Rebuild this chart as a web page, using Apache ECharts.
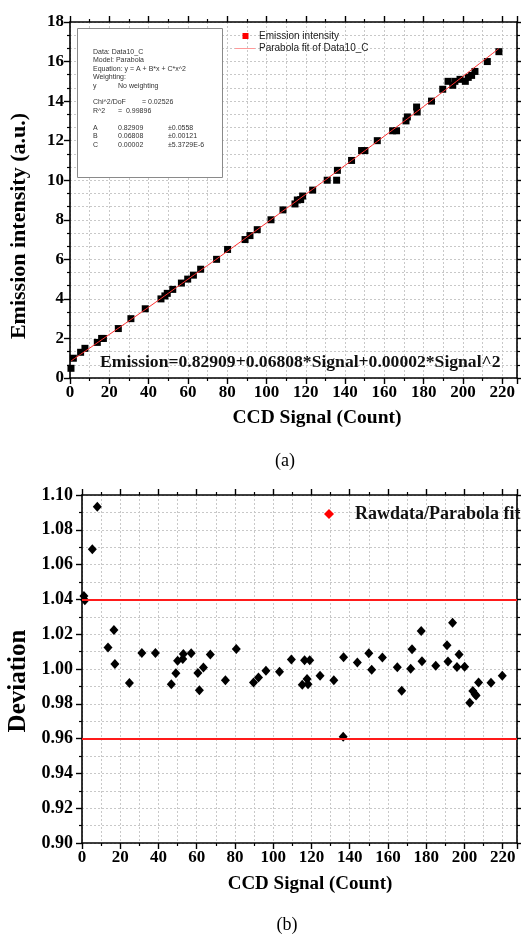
<!DOCTYPE html>
<html><head><meta charset="utf-8">
<script src="https://cdn.jsdelivr.net/npm/echarts@6/dist/echarts.min.js"></script>
<style>html,body{margin:0;padding:0;background:#fff}#c{width:521px;height:936px}</style>
</head><body><div id="c"></div>
<script>
// ---- Panel (a): emission intensity vs CCD signal ----
const sigA = [0.5,1.7,5.4,7.6,13.9,16.1,17.0,24.6,31.0,38.3,46.3,48.3,49.5,52.3,56.7,59.9,62.8,66.5,74.6,80.2,89.1,91.6,95.3,102.3,108.4,114.5,115.7,117.4,118.4,123.5,130.9,135.7,136.1,143.3,148.4,150.1,156.4,164.2,166.2,171.0,171.7,176.4,176.7,184.0,189.7,192.4,194.8,195.9,198.5,201.2,202.7,204.4,206.1,212.4,218.3];
const emission = [0.49,1.0,1.3,1.5,1.8,2.0,2.0,2.5,3.0,3.5,4.0,4.15,4.28,4.48,4.8,5.0,5.2,5.5,6.0,6.5,7.0,7.2,7.5,8.0,8.5,8.8,9.0,9.02,9.2,9.5,10.0,10.0,10.5,11.0,11.5,11.5,12.0,12.5,12.5,13.0,13.2,13.7,13.45,14.0,14.6,15.0,14.8,15.0,15.1,15.0,15.2,15.3,15.5,16.0,16.5];
const fitX = [0.5,20,40,60,80,100,120,140,160,180,200,218.3];
const fitY = [0.86,2.20,3.58,4.99,6.40,7.84,9.29,10.75,12.23,13.73,15.25,16.66];
const xTicks = [0,20,40,60,80,100,120,140,160,180,200,220];
const yTicksA = [0,2,4,6,8,10,12,14,16,18];
const boxLines = [
  ['Data: Data10_C','',''],
  ['Model: Parabola','',''],
  ['Equation: y = A + B*x + C*x^2','',''],
  ['Weighting:','',''],
  ['y','No weighting',''],
  null,
  ['Chi^2/DoF','','= 0.02526'],
  ['R^2','=  0.99896',''],
  null,
  ['A','0.82909','\u00b10.0558'],
  ['B','0.06808','\u00b10.00121'],
  ['C','0.00002','\u00b15.3729E-6']
];
// ---- Panel (b): deviation ----
const sigB = [1.0,1.5,5.4,8.0,13.6,16.7,17.2,24.8,31.3,38.4,46.7,49.1,50.0,52.7,53.0,57.1,60.6,61.4,63.5,67.1,75.0,80.7,89.7,92.3,96.2,103.3,109.5,115.2,116.4,117.7,118.2,119.1,124.5,131.7,136.6,136.8,144.0,150.0,151.5,157.1,164.9,167.2,171.9,172.6,177.4,177.8,185.0,190.9,191.4,193.8,196.1,197.2,200.1,202.8,204.4,205.6,206.1,207.4,213.9,219.8];
const deviation = [1.042,1.0395,1.0688,1.0933,1.0124,1.0224,1.0029,0.9920,1.0092,1.0092,0.9913,0.9976,1.0047,1.0058,1.0086,1.0090,0.9977,0.9878,1.0009,1.0084,0.9935,1.0115,0.9923,0.9951,0.9990,0.9984,1.0055,0.9909,1.0051,0.9943,0.9912,1.0051,0.9961,0.9936,0.9611,1.0067,1.0037,1.0091,0.9996,1.0066,1.0010,0.9875,1.0001,1.0113,1.0218,1.0044,1.0019,1.0137,1.0043,1.0266,1.0011,1.0083,1.0013,0.9806,0.9874,0.9855,0.9847,0.9922,0.9921,0.9961];
const limits = [1.04, 0.96];
const yTicksB = [0.90,0.92,0.94,0.96,0.98,1.00,1.02,1.04,1.06,1.08,1.10];

const SERIF = '"Liberation Serif","Times New Roman",serif';
const SANS = '"Liberation Sans",Arial,sans-serif';
const XMAX = 227.5;

function xAx(gi, pos, show) {
  return {
    type:'value', gridIndex:gi, position:pos, min:0, max:XMAX, interval:20,
    axisLine:{show:true, onZero:false, lineStyle:{color:'#000', width:1.6}},
    axisTick:{show:true, inside:false, length:6, lineStyle:{color:'#000', width:1.4}},
    minorTick:{show:true, splitNumber:2, length:3, lineStyle:{color:'#000', width:1.2}},
    axisLabel:{show:show, showMaxLabel:false, color:'#000', fontFamily:SERIF, fontWeight:'bold', fontSize:17, margin:6},
    splitLine:{show:show, lineStyle:{color:'#c8c8c8', type:[2,2], width:1}},
    minorSplitLine:{show:show, lineStyle:{color:'#c8c8c8', type:[2,2], width:1}}
  };
}
function yAx(gi, pos, show, mn, mx, iv, minorN, fmt, fs, mg) {
  return {
    type:'value', gridIndex:gi, position:pos, min:mn, max:mx, interval:iv,
    axisLine:{show:true, onZero:false, lineStyle:{color:'#000', width:1.6}},
    axisTick:{show:true, inside:false, length:6, lineStyle:{color:'#000', width:1.4}},
    minorTick:{show:true, splitNumber:minorN, length:3, lineStyle:{color:'#000', width:1.2}},
    axisLabel:{show:show, color:'#000', fontFamily:SERIF, fontWeight:'bold', fontSize:fs, margin:mg, formatter:fmt},
    splitLine:{show:show, lineStyle:{color:'#c8c8c8', type:[2,2], width:1}},
    minorSplitLine:{show:show, lineStyle:{color:'#c8c8c8', type:[2,2], width:1}}
  };
}

const chart = echarts.init(document.getElementById('c'), null, {renderer:'canvas'});

const graphics = [];
// text box
graphics.push({type:'rect', shape:{x:77.5, y:28.5, width:145, height:149}, style:{fill:'#fff', stroke:'#8a8a8a', lineWidth:1}, z:10});
const lineYs = [52,60.5,69,77.5,86,null,102.5,111,null,128,136.5,145];
boxLines.forEach((r, i) => {
  if (!r) return;
  const y = lineYs[i];
  const cols = [93, 118, (i===6?142:168)];
  r.forEach((t, j) => {
    if (!t) return;
    graphics.push({type:'text', x:cols[j], y:y, style:{text:t, fill:'#333', font:'7px '+SANS, textVerticalAlign:'middle'}, z:11});
  });
});
// legend (a)
graphics.push({type:'rect', shape:{x:242.5, y:33, width:6, height:6}, style:{fill:'#ff0000'}, z:11});
graphics.push({type:'text', x:259, y:36, style:{text:'Emission intensity', fill:'#222', font:'10px '+SANS, textVerticalAlign:'middle'}, z:11});
graphics.push({type:'line', shape:{x1:235, y1:48.5, x2:255, y2:48.5}, style:{stroke:'#ff9999', lineWidth:1}, z:11});
graphics.push({type:'text', x:259, y:48.5, style:{text:'Parabola fit of Data10_C', fill:'#222', font:'10px '+SANS, textVerticalAlign:'middle'}, z:11});
// equation
graphics.push({type:'text', x:100, y:362, style:{text:'Emission=0.82909+0.06808*Signal+0.00002*Signal^2', fill:'#111', font:'bold 17.6px '+SERIF, textVerticalAlign:'middle'}, z:11});
// axis titles
graphics.push({type:'text', x:317, y:418, style:{text:'CCD Signal (Count)', fill:'#000', font:'bold 19.5px '+SERIF, textAlign:'center', textVerticalAlign:'middle'}, z:11});
graphics.push({type:'text', x:310, y:884, style:{text:'CCD Signal (Count)', fill:'#000', font:'bold 19px '+SERIF, textAlign:'center', textVerticalAlign:'middle'}, z:11});
graphics.push({type:'text', x:19, y:226, rotation:Math.PI/2, style:{text:'Emission intensity (a.u.)', fill:'#000', font:'bold 22px '+SERIF, textAlign:'center', textVerticalAlign:'middle'}, z:11});
graphics.push({type:'text', x:19, y:681, rotation:Math.PI/2, style:{text:'Deviation', fill:'#000', font:'bold 25px '+SERIF, textAlign:'center', textVerticalAlign:'middle'}, z:11});
// captions
graphics.push({type:'text', x:285, y:461, style:{text:'(a)', fill:'#000', font:'18px '+SERIF, textAlign:'center', textVerticalAlign:'middle'}, z:11});
graphics.push({type:'text', x:287, y:925, style:{text:'(b)', fill:'#000', font:'18px '+SERIF, textAlign:'center', textVerticalAlign:'middle'}, z:11});
// legend (b)
graphics.push({type:'polygon', shape:{points:[[329,509],[334,514],[329,519],[324,514]]}, style:{fill:'#ff0000'}, z:11});
graphics.push({type:'text', x:355, y:514, style:{text:'Rawdata/Parabola fit', fill:'#111', font:'bold 18px '+SERIF, textVerticalAlign:'middle'}, z:11});

const option = {
  backgroundColor:'#fff',
  animation:false,
  grid:[
    {left:70, right:4, top:22, bottom:558},
    {left:82, right:4, top:495, bottom:93}
  ],
  xAxis:[ xAx(0,'bottom',true), xAx(0,'top',false), xAx(1,'bottom',true), xAx(1,'top',false) ],
  yAxis:[
    yAx(0,'left',true,0,18,2,3,null,17,6),
    yAx(0,'right',false,0,18,2,3,null,17,6),
    yAx(1,'left',true,0.9,1.1,0.02,2,v=>v.toFixed(2),18,9),
    yAx(1,'right',false,0.9,1.1,0.02,2,null,17,6)
  ],
  series:[
    {type:'scatter', xAxisIndex:0, yAxisIndex:0, symbol:'rect', symbolSize:7,
     itemStyle:{color:'#000', opacity:1}, data: sigA.map((x,i)=>[x, emission[i]]), z:2},
    {type:'line', xAxisIndex:0, yAxisIndex:0, smooth:true, symbol:'none',
     lineStyle:{color:'#ff3030', width:1}, data: fitX.map((x,i)=>[x, fitY[i]]), z:3},
    {type:'scatter', xAxisIndex:2, yAxisIndex:2, symbol:'diamond', symbolSize:[9,10],
     itemStyle:{color:'#000', opacity:1}, data: sigB.map((x,i)=>[x, deviation[i]]), z:3,
     markLine:{silent:true, symbol:'none', label:{show:false},
       lineStyle:{color:'#ff1a1a', width:2, type:'solid'},
       data: limits.map(v=>({yAxis:v}))}}
  ],
  graphic: graphics
};
chart.setOption(option);
</script></body></html>
